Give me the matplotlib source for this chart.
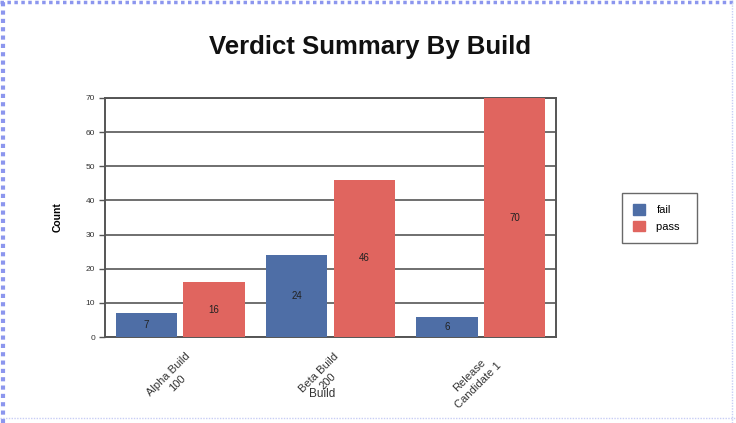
import matplotlib.pyplot as plt
import matplotlib.transforms as mtransforms
import numpy as np
from matplotlib.lines import Line2D

plt.rcParams['font.family'] = ['Liberation Sans', 'DejaVu Sans']

builds = ["Alpha Build\n100", "Beta Build\n200", "Release\nCandidate 1"]
fail_counts = [7, 24, 6]
pass_counts = [16, 46, 70]
y_ticks = [0, 10, 20, 30, 40, 50, 60, 70]

fail_color = '#4e6ea6'
pass_color = '#e0655f'

fig = plt.figure(figsize=(7.36, 4.23), dpi=100)
ax = fig.add_axes([105 / 736, 1 - 337 / 423, 451 / 736, 239 / 423])

x = np.arange(len(builds))
bar_w = 0.41
off = 0.225
fail_bars = ax.bar(x - off, fail_counts, bar_w, color=fail_color, zorder=3, label='fail')
pass_bars = ax.bar(x + off, pass_counts, bar_w, color=pass_color, zorder=3, label='pass')

# value labels sit in the middle of each bar
for bars, vals in ((fail_bars, fail_counts), (pass_bars, pass_counts)):
    for b, v in zip(bars, vals):
        ax.text(b.get_x() + b.get_width() / 2, v / 2, str(v), ha='center', va='center',
                fontsize=7, color='#222222', zorder=4)

ax.set_xlim(-0.5, 2.5)
ax.set_ylim(0, 70)
ax.set_yticks(y_ticks)
ax.set_yticklabels([str(t) for t in y_ticks], fontsize=6, color='#333333')
ax.yaxis.grid(True, color='#6f6f6f', linewidth=1.4, zorder=1)
ax.set_axisbelow(True)
ax.tick_params(axis='y', length=4, width=1, color='#555555', pad=3)
ax.tick_params(axis='x', length=0, pad=10)
ax.set_xticks(x)
ax.set_xticklabels(builds, rotation=45, ha='center', multialignment='center', fontsize=8,
                   color='#333333', linespacing=1.4)
shift = mtransforms.ScaledTranslation(-7 / 100, 0, fig.dpi_scale_trans)
for lbl in ax.get_xticklabels():
    lbl.set_transform(lbl.get_transform() + shift)
for side in ('left', 'bottom', 'right', 'top'):
    ax.spines[side].set_color('#555555')
    ax.spines[side].set_linewidth(1.4)

ax.set_ylabel('Count', fontsize=7.5, fontweight='bold', labelpad=17)
fig.text(322 / 736, 1 - 394 / 423, 'Build', ha='center', va='center', fontsize=8.5, color='#333333')

fig.text(370 / 736, 1 - 47 / 423, 'Verdict Summary By Build', ha='center', va='center',
         fontsize=18.5, fontweight='bold', color='#111111')

handles = [plt.Rectangle((0, 0), 1, 1, color=fail_color), plt.Rectangle((0, 0), 1, 1, color=pass_color)]
leg = fig.legend(handles, ['fail', 'pass  '], loc='upper left',
                 bbox_to_anchor=(622 / 736, 1 - 193 / 423), fontsize=8, frameon=True,
                 fancybox=False, handlelength=1.1, handleheight=1.1, borderpad=1.0,
                 labelspacing=0.5, handletextpad=1.0, borderaxespad=0)
leg.get_frame().set_edgecolor('#444444')
leg.get_frame().set_linewidth(1.0)

# dotted page frame
fig.add_artist(Line2D([3 / 736, 3 / 736], [0, 1], color='#8c96ee', lw=3, ls=(0, (1, 1))))
fig.add_artist(Line2D([0, 1], [1 - 2 / 423, 1 - 2 / 423], color='#8c96ee', lw=2.5, ls=(0, (1, 1))))
fig.add_artist(Line2D([0, 1], [1 - 418 / 423, 1 - 418 / 423], color='#c8cdf5', lw=1, ls=(0, (1, 1))))
fig.add_artist(Line2D([732 / 736, 732 / 736], [0, 1], color='#c8cdf5', lw=1, ls=(0, (1, 1))))

fig.savefig('out.png', dpi=100)
